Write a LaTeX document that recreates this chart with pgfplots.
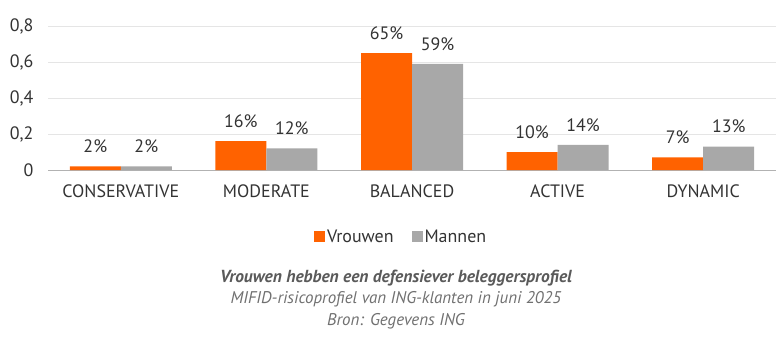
\documentclass[border=0pt]{standalone}
\usepackage{pgfplots}
\pgfplotsset{compat=1.18}
\usepackage{fontspec}
\setmainfont{PT Sans}
\definecolor{ingorange}{HTML}{FF6200}
\definecolor{inggray}{HTML}{A8A8A8}
\definecolor{txt}{HTML}{333333}
\definecolor{cap}{HTML}{707070}
\begin{document}
\begin{tikzpicture}[x=1bp,y=1bp]
\useasboundingbox (0,0) rectangle (780,337);
\begin{axis}[
  at={(48bp,167bp)}, anchor=south west,
  scale only axis, width=728bp, height=144bp,
  xmin=-0.5, xmax=4.5, ymin=0, ymax=0.8,
  ytick={0,0.2,0.4,0.6,0.8},
  /pgf/number format/assume math mode=true,
  /pgf/number format/fixed, /pgf/number format/use comma, /pgf/number format/precision=1,
  y tick label style={font=\fontsize{18}{18}\selectfont, text=txt, xshift=-11bp},
  xtick={0,1,2,3,4},
  xticklabels={CONSERVATIVE,MODERATE,BALANCED,ACTIVE,DYNAMIC},
  x tick label style={font=\fontsize{18}{18}\selectfont, text=txt, yshift=-7bp},
  major x tick style={draw=none},
  major y tick style={draw=none},
  extra x ticks={-0.5,0.5,1.5,2.5,3.5,4.5},
  extra x tick labels={},
  extra x tick style={major tick length=7bp, tick align=outside, tick style={draw=gray!70, line width=0.6pt}, grid=none},
  axis x line*=bottom, axis y line*=left,
  x axis line style={draw=gray!60, line width=0.8pt},
  y axis line style={draw=none},
  ymajorgrids, grid style={draw=gray!20, line width=0.6pt},
  ybar=0pt, bar width=51bp,
  nodes near coords, point meta=explicit symbolic,
  every node near coord/.append style={font=\fontsize{18}{18}\selectfont, text=txt, yshift=10bp},
  legend style={at={(0.485,-0.465)}, anchor=center, draw=none, font=\fontsize{18}{18}\selectfont, text=txt, legend columns=2, /tikz/every even column/.append style={column sep=16bp}},
  legend image code/.code={\fill[#1] (0bp,-5.5bp) rectangle (11bp,5.5bp);},
]
\addplot[fill=ingorange, draw=none] coordinates {(0,0.02) [2\%] (1,0.16) [16\%] (2,0.65) [65\%] (3,0.10) [10\%] (4,0.07) [7\%]};
\addplot[fill=inggray, draw=none] coordinates {(0,0.02) [2\%] (1,0.12) [12\%] (2,0.59) [59\%] (3,0.14) [14\%] (4,0.13) [13\%]};
\legend{Vrouwen,Mannen}
\end{axis}
\node[text=cap!80!black, font=\fontsize{17.5}{17.5}\selectfont\bfseries\itshape] at (396,59) {Vrouwen hebben een defensiever beleggersprofiel};
\node[text=cap, font=\fontsize{17}{17}\selectfont\itshape] at (396,38) {MIFID-risicoprofiel van ING-klanten in juni 2025};
\node[text=cap, font=\fontsize{17}{17}\selectfont\itshape] at (396,16) {Bron: Gegevens ING};
\end{tikzpicture}
\end{document}
